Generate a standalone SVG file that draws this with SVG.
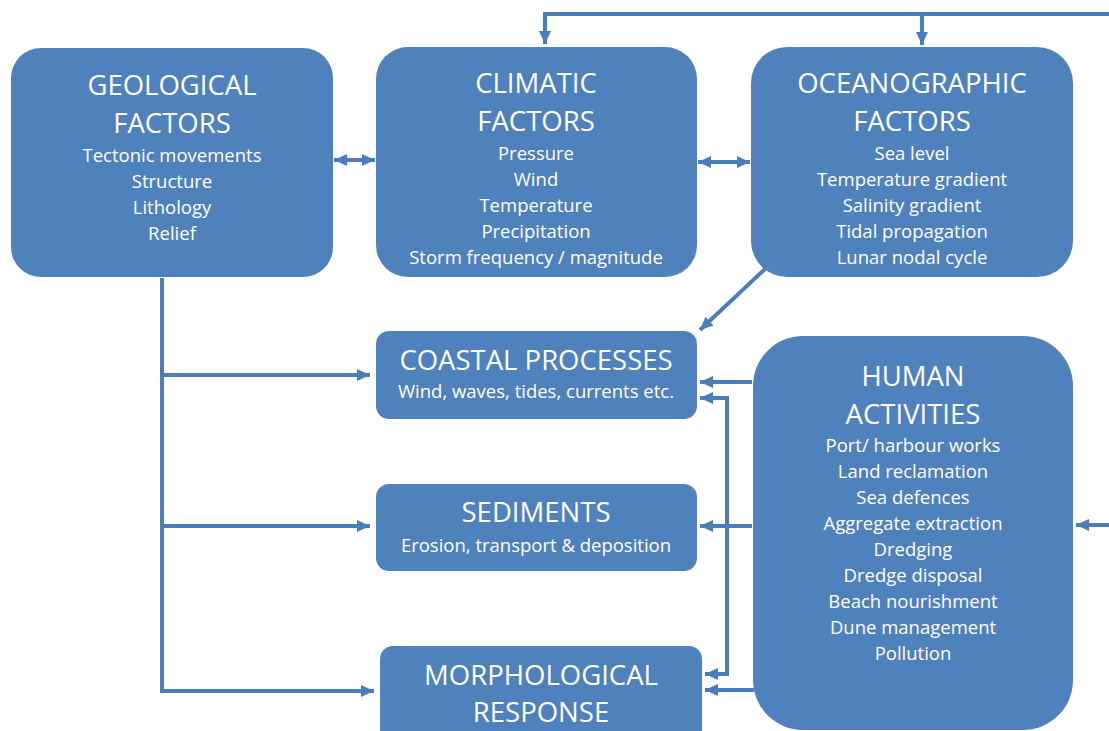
<svg xmlns="http://www.w3.org/2000/svg" width="1109" height="731" viewBox="0 0 1109 731">
<style>
.box{fill:#4f81bd}
.t{font-family:"Open Sans","Liberation Sans",sans-serif;fill:#fff;text-anchor:middle}
.h{font-size:27.5px}
.b{font-size:18.5px}
.c{fill:none;stroke:#4a7ebb;stroke-width:4}
</style>
<defs>
<marker id="ah" markerUnits="userSpaceOnUse" markerWidth="14" markerHeight="14" refX="13" refY="7" orient="auto-start-reverse">
<path d="M0,1 L13,7 L0,13 Z" fill="#4a7ebb"/>
</marker>
</defs>
<rect width="1109" height="731" fill="#fff"/>
<g id="connectors">
<path class="c" d="M1109,14 H545 V44" marker-end="url(#ah)"/>
<path class="c" d="M922,14 V45" marker-end="url(#ah)"/>
<path class="c" d="M334,160 H375" marker-start="url(#ah)" marker-end="url(#ah)"/>
<path class="c" d="M698,162 H750" marker-start="url(#ah)" marker-end="url(#ah)"/>
<path class="c" d="M766,268 L700,330" marker-end="url(#ah)"/>
<path class="c" d="M162,278 V691 H373"/>
<path class="c" d="M162,375 H370" marker-end="url(#ah)"/>
<path class="c" d="M162,526 H370" marker-end="url(#ah)"/>
<path class="c" d="M162,691 H374" marker-end="url(#ah)"/>
<path class="c" d="M752,382 H700" marker-end="url(#ah)"/>
<path class="c" d="M752,526 H700" marker-end="url(#ah)"/>
<path class="c" d="M754,690 H705" marker-end="url(#ah)"/>
<path class="c" d="M700,398 H727 V674 H705" marker-start="url(#ah)" marker-end="url(#ah)"/>
<path class="c" d="M1109,525 H1076" marker-end="url(#ah)"/>
</g>
<g id="geological">
<rect class="box" x="11" y="48" width="322" height="229" rx="30"/>
<text class="t h" x="172" y="95">GEOLOGICAL</text>
<text class="t h" x="172" y="133">FACTORS</text>
<text class="t b" x="172" y="162">Tectonic movements</text>
<text class="t b" x="172" y="188">Structure</text>
<text class="t b" x="172" y="214">Lithology</text>
<text class="t b" x="172" y="240">Relief</text>
</g>
<g id="climatic">
<rect class="box" x="376" y="47" width="321" height="230" rx="32"/>
<text class="t h" x="536" y="93">CLIMATIC</text>
<text class="t h" x="536" y="131">FACTORS</text>
<text class="t b" x="536" y="160">Pressure</text>
<text class="t b" x="536" y="186">Wind</text>
<text class="t b" x="536" y="212">Temperature</text>
<text class="t b" x="536" y="238">Precipitation</text>
<text class="t b" x="536" y="264">Storm frequency / magnitude</text>
</g>
<g id="oceanographic">
<rect class="box" x="751" y="47" width="322" height="230" rx="36"/>
<text class="t h" x="912" y="93">OCEANOGRAPHIC</text>
<text class="t h" x="912" y="131">FACTORS</text>
<text class="t b" x="912" y="160">Sea level</text>
<text class="t b" x="912" y="186">Temperature gradient</text>
<text class="t b" x="912" y="212">Salinity gradient</text>
<text class="t b" x="912" y="238">Tidal propagation</text>
<text class="t b" x="912" y="264">Lunar nodal cycle</text>
</g>
<g id="coastal">
<rect class="box" x="376" y="331" width="321" height="88" rx="13"/>
<text class="t h" x="536" y="370">COASTAL PROCESSES</text>
<text class="t b" x="536" y="398">Wind, waves, tides, currents etc.</text>
</g>
<g id="sediments">
<rect class="box" x="376" y="484" width="321" height="87" rx="13"/>
<text class="t h" x="536" y="522">SEDIMENTS</text>
<text class="t b" x="536" y="552">Erosion, transport &amp; deposition</text>
</g>
<g id="morphological">
<rect class="box" x="380" y="646" width="322" height="100" rx="13"/>
<text class="t h" x="541" y="685">MORPHOLOGICAL</text>
<text class="t h" x="541" y="722">RESPONSE</text>
</g>
<g id="human">
<rect class="box" x="753" y="336" width="320" height="394" rx="50"/>
<text class="t h" x="913" y="386">HUMAN</text>
<text class="t h" x="913" y="424">ACTIVITIES</text>
<text class="t b" x="913" y="452">Port/ harbour works</text>
<text class="t b" x="913" y="478">Land reclamation</text>
<text class="t b" x="913" y="504">Sea defences</text>
<text class="t b" x="913" y="530">Aggregate extraction</text>
<text class="t b" x="913" y="556">Dredging</text>
<text class="t b" x="913" y="582">Dredge disposal</text>
<text class="t b" x="913" y="608">Beach nourishment</text>
<text class="t b" x="913" y="634">Dune management</text>
<text class="t b" x="913" y="660">Pollution</text>
</g>
</svg>
